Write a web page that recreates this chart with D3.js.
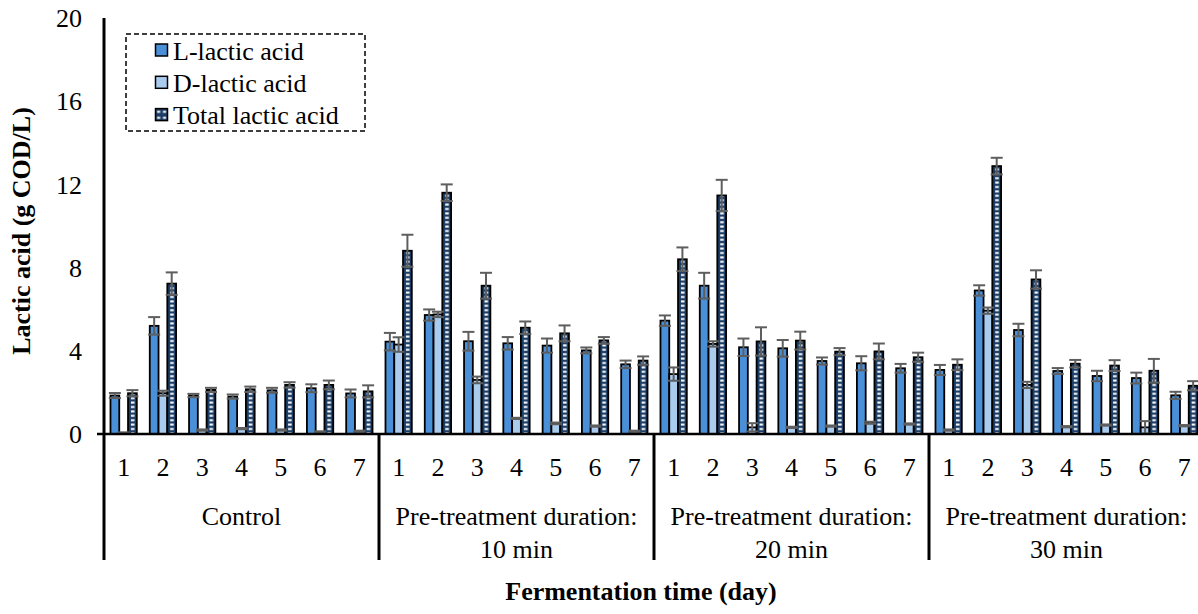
<!DOCTYPE html>
<html>
<head>
<meta charset="utf-8">
<script src="https://cdn.jsdelivr.net/npm/d3@7"></script>
<style>
  html, body { margin: 0; padding: 0; background: #fff; }
  svg { display: block; }
  text { font-family: "Liberation Serif", "Times New Roman", Times, serif; }
</style>
</head>
<body>
<svg id="chart" width="1198" height="614"></svg>
<script>
// Fermentation groups and days
const groups = ["Control", "Pre-treatment duration:\n10 min", "Pre-treatment duration:\n20 min", "Pre-treatment duration:\n30 min"];
const days = ["1", "2", "3", "4", "5", "6", "7"];
const seriesNames = ["L-lactic acid", "D-lactic acid", "Total lactic acid"];
const yTicks = [0, 4, 8, 12, 16, 20];

// Mean concentrations (g COD/L), 7 days per group, groups in order above
const lLactic = [
  1.85, 5.2, 1.85, 1.8, 2.1, 2.2, 1.95,
  4.44, 5.72, 4.46, 4.36, 4.25, 4.02, 3.35,
  5.45, 7.13, 4.17, 4.12, 3.51, 3.4, 3.16,
  3.08, 6.9, 5.0, 3.03, 2.79, 2.69, 1.86
];
const lLacticErr = [
  0.12, 0.42, 0.08, 0.1, 0.12, 0.19, 0.19,
  0.42, 0.27, 0.45, 0.3, 0.34, 0.14, 0.18,
  0.25, 0.62, 0.42, 0.4, 0.17, 0.34, 0.21,
  0.24, 0.25, 0.3, 0.14, 0.25, 0.26, 0.17
];
const dLactic = [
  0.05, 1.96, 0.19, 0.26, 0.19, 0.1, 0.13,
  4.3, 5.75, 2.6, 0.75, 0.51, 0.38, 0.13,
  2.88, 4.33, 0.32, 0.32, 0.38, 0.54, 0.48,
  0.19, 5.93, 2.36, 0.35, 0.43, 0.32, 0.4
];
const dLacticErr = [
  0.03, 0.12, 0.03, 0.03, 0.03, 0.03, 0.03,
  0.35, 0.13, 0.16, 0.03, 0.04, 0.03, 0.03,
  0.32, 0.13, 0.2, 0.03, 0.03, 0.05, 0.03,
  0.03, 0.15, 0.15, 0.03, 0.03, 0.3, 0.03
];
const totalLactic = [
  1.96, 7.23, 2.12, 2.15, 2.36, 2.36, 2.05,
  8.81, 11.6, 7.13, 5.11, 4.84, 4.5, 3.53,
  8.4, 11.47, 4.45, 4.49, 3.96, 3.97, 3.69,
  3.33, 12.88, 7.43, 3.38, 3.29, 3.04, 2.32
];
const totalLacticErr = [
  0.15, 0.54, 0.1, 0.13, 0.13, 0.21, 0.29,
  0.77, 0.4, 0.62, 0.3, 0.38, 0.16, 0.2,
  0.57, 0.75, 0.68, 0.43, 0.17, 0.38, 0.22,
  0.26, 0.4, 0.44, 0.18, 0.26, 0.57, 0.22
];

const colors = { L: "#4a90d9", D: "#a9cbee", T: "#1b3d66" };
const errColor = "#5e5e5e";
const serif = "Liberation Serif, Times New Roman, Times, serif";

const svg = d3.select("#chart");
const plotLeft = 104, plotRight = 1204, plotTop = 18, plotBottom = 434;
const axisBottom = 560;

// Category index for each bar cluster
const cats = d3.range(groups.length * days.length);
const x = d3.scaleBand().domain(cats).range([plotLeft, plotRight])
  .paddingInner(0.33).paddingOuter(0.165);
const xSub = d3.scaleBand().domain(["L", "D", "T"]).range([0, x.bandwidth()]);
const y = d3.scaleLinear().domain([0, 20]).range([plotBottom, plotTop]);

const rows = cats.map(i => ({
  i,
  L: lLactic[i], Le: lLacticErr[i],
  D: dLactic[i], De: dLacticErr[i],
  T: totalLactic[i], Te: totalLacticErr[i]
}));

// Pattern for the total bars: navy fill with a column of white dashes.
// Tiles are laid out in each cluster's local coordinates.
const defs = svg.append("defs");
const bw = xSub.bandwidth();
const pat = defs.append("pattern")
  .attr("id", "totalPat")
  .attr("patternUnits", "userSpaceOnUse")
  .attr("x", xSub("T"))
  .attr("y", 0)
  .attr("width", bw)
  .attr("height", 4.4);
pat.append("rect").attr("width", bw).attr("height", 4.4).attr("fill", colors.T);
pat.append("rect").attr("x", bw / 2 - 1.5).attr("y", 1.2).attr("width", 3.6).attr("height", 2).attr("fill", "#fff");

const legPat = defs.append("pattern")
  .attr("id", "legendPat")
  .attr("patternUnits", "userSpaceOnUse")
  .attr("x", 155.5).attr("y", -6.5)
  .attr("width", 6).attr("height", 6);
legPat.append("rect").attr("width", 6).attr("height", 6).attr("fill", colors.T);
legPat.append("rect").attr("x", 1.5).attr("y", 2.2).attr("width", 3.2).attr("height", 2).attr("fill", "#fff");

const fills = { L: colors.L, D: colors.D, T: "url(#totalPat)" };

// Bars
const clusters = svg.append("g").selectAll("g").data(rows).join("g")
  .attr("transform", d => `translate(${x(d.i)},0)`);

["L", "D", "T"].forEach(k => {
  clusters.append("rect")
    .attr("x", xSub(k))
    .attr("y", d => y(d[k]))
    .attr("width", xSub.bandwidth())
    .attr("height", d => y(0) - y(d[k]))
    .attr("fill", fills[k])
    .attr("stroke", "#000")
    .attr("stroke-width", 1.8);
});

// Error bars
["L", "D", "T"].forEach(k => {
  const cx = xSub(k) + xSub.bandwidth() / 2;
  const eb = clusters.append("g").attr("stroke", errColor).attr("stroke-width", 2).attr("fill", "none");
  const hi = d => y(d[k] + d[k + "e"]);
  const lo = d => y(Math.max(0, d[k] - d[k + "e"]));
  eb.append("line").attr("x1", cx).attr("x2", cx).attr("y1", hi).attr("y2", lo);
  eb.append("line").attr("x1", cx - 6).attr("x2", cx + 6).attr("y1", hi).attr("y2", hi);
  eb.append("line").attr("x1", cx - 6).attr("x2", cx + 6).attr("y1", lo).attr("y2", lo);
});

// Y axis
svg.append("g").selectAll("text").data(yTicks).join("text")
  .attr("x", 82).attr("y", d => y(d)).attr("dy", "0.35em")
  .attr("text-anchor", "end").attr("font-size", 26).attr("font-family", serif).attr("fill", "#000")
  .text(d => d);
svg.append("line").attr("x1", plotLeft).attr("x2", plotLeft)
  .attr("y1", plotTop).attr("y2", axisBottom)
  .attr("stroke", "#000").attr("stroke-width", 3);

// X axis line and group dividers
svg.append("line").attr("x1", 97).attr("x2", plotRight)
  .attr("y1", plotBottom).attr("y2", plotBottom)
  .attr("stroke", "#000").attr("stroke-width", 2.5);
const groupStep = x.step() * days.length;
svg.append("g").selectAll("line").data(d3.range(1, groups.length + 1)).join("line")
  .attr("x1", g => plotLeft + g * groupStep).attr("x2", g => plotLeft + g * groupStep)
  .attr("y1", plotBottom).attr("y2", axisBottom)
  .attr("stroke", "#000").attr("stroke-width", 3);

// Day labels
svg.append("g").selectAll("text").data(rows).join("text")
  .attr("x", d => x(d.i) + x.bandwidth() / 2)
  .attr("y", 476)
  .attr("text-anchor", "middle").attr("font-size", 26).attr("font-family", serif)
  .text(d => days[d.i % days.length]);

// Group labels
const gl = svg.append("g").selectAll("text").data(groups).join("text")
  .attr("x", (g, i) => plotLeft + (i + 0.5) * groupStep)
  .attr("y", 525)
  .attr("text-anchor", "middle").attr("font-size", 26).attr("font-family", serif);
gl.selectAll("tspan").data(g => g.split("\n")).join("tspan")
  .attr("x", function () { return d3.select(this.parentNode).attr("x"); })
  .attr("dy", (t, j) => j === 0 ? 0 : 33)
  .text(t => t);

// Axis titles
svg.append("text")
  .attr("x", 641).attr("y", 600)
  .attr("text-anchor", "middle").attr("font-size", 26).attr("font-weight", "bold").attr("font-family", serif)
  .text("Fermentation time (day)");
svg.append("text")
  .attr("transform", "translate(30,231) rotate(-90)")
  .attr("text-anchor", "middle").attr("font-size", 26).attr("font-weight", "bold").attr("font-family", serif)
  .text("Lactic acid (g COD/L)");

// Legend
const legend = svg.append("g");
legend.append("rect").attr("x", 126).attr("y", 34).attr("width", 239).attr("height", 97)
  .attr("fill", "#fff").attr("stroke", "#000").attr("stroke-width", 1.5)
  .attr("stroke-dasharray", "5,3");
const legendFills = [colors.L, colors.D, "url(#legendPat)"];
const legendRows = legend.selectAll("g.row").data(seriesNames).join("g").attr("class", "row")
  .attr("transform", (d, i) => `translate(0,${50.5 + i * 32.3})`);
legendRows.append("rect").attr("x", 155.5).attr("y", -6.5).attr("width", 12).attr("height", 12)
  .attr("fill", (d, i) => legendFills[i]).attr("stroke", "#000").attr("stroke-width", 1.5);
legendRows.append("text").attr("x", 173).attr("y", 0).attr("dy", "0.35em")
  .attr("font-size", 26).attr("font-family", serif).text(d => d);
</script>
</body>
</html>
